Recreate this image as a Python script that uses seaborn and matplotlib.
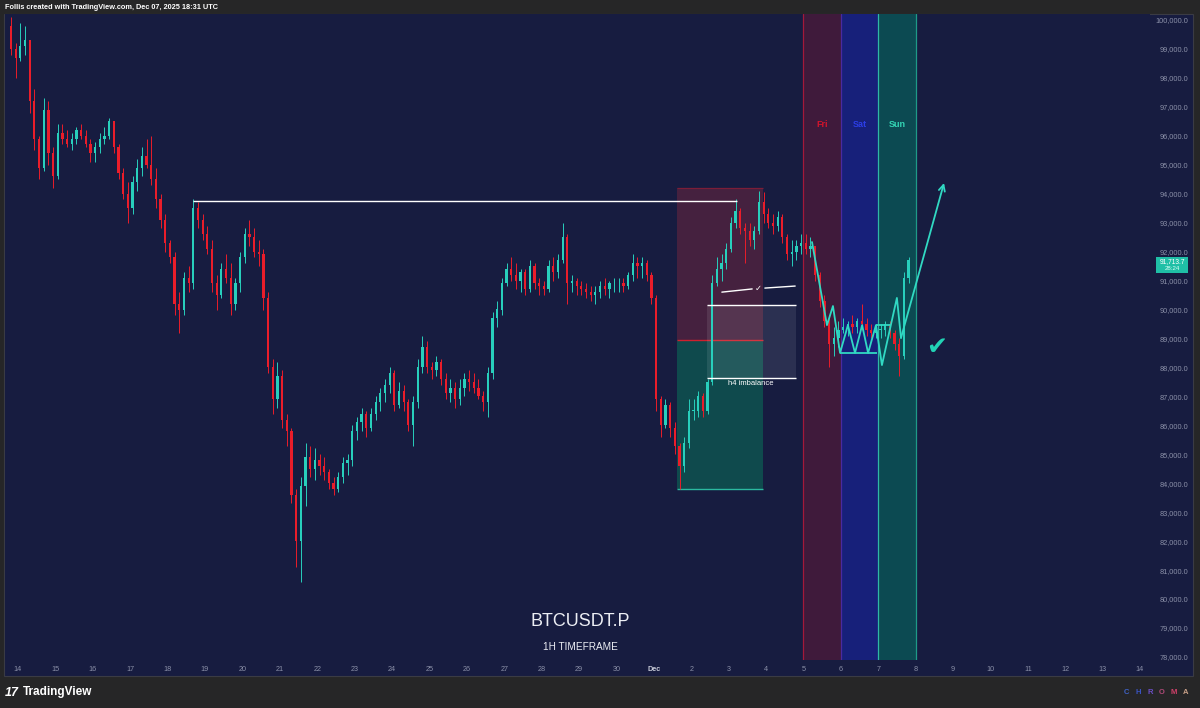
import numpy as np
import pandas as pd
import matplotlib
matplotlib.use("Agg")
import matplotlib.pyplot as plt
from matplotlib.patches import Rectangle
import seaborn as sns

# ---------------- data (prices in thousand USD, 3-hour candles from 2025-11-13 18:00 UTC) -------------
first_open = 99.8
closes = [
    99.0, 98.7,
    99.1, 99.3, 97.2, 95.9, 94.9, 96.9, 95.4, 94.6,   # Nov 14
    96.1, 95.9, 95.7, 95.9, 96.2, 96.0, 95.7, 95.4,   # Nov 15
    95.6, 95.9, 96.0, 96.5, 95.6, 94.7, 94.0, 93.5,   # Nov 16
    94.4, 94.9, 95.3, 95.0, 94.5, 93.8, 93.1, 92.3,   # Nov 17
    91.8, 90.2, 90.0, 91.1, 90.9, 93.5, 93.1, 92.6,   # Nov 18
    92.1, 90.9, 90.5, 91.4, 91.1, 90.2, 90.9, 91.8,   # Nov 19
    92.6, 92.5, 92.0, 91.9, 90.4, 88.0, 86.9, 87.7,   # Nov 20
    86.2, 85.8, 83.6, 82.0, 83.9, 84.9, 84.5, 84.8,   # Nov 21
    84.6, 84.4, 84.0, 83.8, 84.2, 84.7, 84.8, 85.8,   # Nov 22
    86.1, 86.4, 85.9, 86.4, 86.8, 87.1, 87.4, 87.8,   # Nov 23
    86.7, 87.2, 86.8, 86.0, 86.8, 88.0, 88.7, 88.0,   # Nov 24
    87.9, 88.2, 87.6, 87.1, 87.3, 86.9, 87.3, 87.6,   # Nov 25
    87.5, 87.3, 87.0, 86.8, 87.8, 89.7, 90.0, 90.9,   # Nov 26
    91.4, 91.2, 91.0, 91.3, 90.7, 91.5, 90.9, 90.8,   # Nov 27
    90.7, 91.5, 91.3, 91.7, 92.5, 90.9, 91.0, 90.8,   # Nov 28
    90.7, 90.6, 90.5, 90.6, 90.8, 90.7, 90.9, 90.9,   # Nov 29
    90.9, 90.8, 91.2, 91.6, 91.5, 91.6, 91.2, 90.4,   # Nov 30
    86.9, 86.0, 86.7, 85.9, 85.3, 84.6, 85.4, 86.5,   # Dec 1
    86.5, 87.0, 86.5, 87.5, 90.9, 91.4, 91.6, 92.1,   # Dec 2
    93.0, 93.4, 92.8, 92.7, 92.4, 92.7, 93.7, 93.3,   # Dec 3
    93.0, 92.9, 93.2, 92.5, 91.9, 92.0, 92.2, 92.3,   # Dec 4
    92.1, 92.2, 91.2, 90.3, 89.6, 88.8, 89.0, 89.3,   # Dec 5
    89.4, 89.5, 89.4, 89.6, 89.5, 89.3, 89.2, 89.3,   # Dec 6
    89.3, 89.5, 89.2, 88.8, 88.4, 91.1, 91.7137,      # Dec 7
]
highs = [
    100.1, 99.2,
    99.9, 99.8, 99.3, 97.6, 96.0, 97.3, 97.2, 95.6,
    96.4, 96.4, 96.2, 96.1, 96.3, 96.4, 96.2, 95.9,
    95.8, 96.1, 96.3, 96.6, 96.5, 95.7, 94.9, 94.4,
    94.6, 95.2, 95.6, 95.9, 96.0, 94.9, 94.0, 93.3,
    92.4, 92.0, 90.6, 91.3, 91.5, 93.8, 93.7, 93.3,
    92.9, 92.4, 91.2, 91.6, 91.9, 91.6, 91.1, 92.0,
    92.8, 93.1, 92.8, 92.4, 92.1, 90.6, 88.3, 88.2,
    87.9, 86.4, 85.9, 83.8, 84.2, 85.4, 85.3, 85.2,
    85.0, 84.9, 84.5, 84.2, 84.4, 84.9, 85.0, 86.0,
    86.3, 86.6, 86.5, 86.6, 87.0, 87.3, 87.6, 88.0,
    87.9, 87.5, 87.4, 86.9, 87.0, 88.3, 89.1, 88.9,
    88.2, 88.4, 88.3, 87.8, 87.6, 87.5, 87.6, 87.8,
    87.9, 87.8, 87.6, 87.2, 88.0, 89.9, 90.3, 91.1,
    91.6, 91.8, 91.6, 91.4, 91.4, 91.7, 91.6, 91.1,
    91.0, 91.7, 91.8, 91.9, 93.0, 92.6, 91.2, 91.1,
    91.0, 90.9, 90.8, 90.8, 91.0, 91.1, 91.0, 91.1,
    91.1, 91.1, 91.3, 91.9, 91.8, 91.8, 91.7, 91.3,
    90.5, 87.0, 86.9, 86.8, 86.1, 85.4, 85.6, 86.9,
    86.9, 87.2, 87.1, 87.6, 91.2, 91.8, 91.9, 92.3,
    93.2, 93.8, 93.5, 93.0, 93.0, 92.9, 94.1, 94.05,
    93.5, 93.3, 93.4, 93.3, 92.6, 92.4, 92.4, 92.6,
    92.6, 92.5, 92.2, 91.3, 90.5, 89.8, 89.4, 89.6,
    89.7, 89.6, 89.8, 89.7, 90.2, 89.7, 89.5, 89.5,
    89.5, 89.6, 89.6, 89.3, 89.0, 91.3, 91.8,
]
lows = [
    98.8, 98.0,
    98.6, 98.8, 96.8, 95.5, 94.5, 94.8, 95.0, 94.2,
    94.5, 95.7, 95.6, 95.5, 95.7, 95.9, 95.6, 95.1,
    95.1, 95.4, 95.7, 95.9, 95.4, 94.5, 93.8, 93.0,
    93.3, 94.1, 94.6, 94.9, 94.3, 93.5, 92.8, 92.0,
    91.6, 89.8, 89.2, 89.8, 90.6, 90.7, 92.8, 92.4,
    91.9, 90.6, 90.0, 90.4, 90.9, 89.8, 90.0, 90.6,
    91.6, 92.2, 91.8, 91.5, 90.0, 87.8, 86.4, 86.6,
    85.9, 85.3, 83.3, 81.1, 80.6, 83.2, 84.2, 84.1,
    84.3, 84.1, 83.8, 83.6, 83.7, 84.0, 84.3, 84.6,
    85.5, 85.8, 85.6, 85.8, 86.2, 86.5, 86.8, 87.1,
    86.5, 86.6, 86.5, 85.8, 85.3, 86.6, 87.8, 87.8,
    87.6, 87.7, 87.4, 86.9, 86.8, 86.6, 86.7, 87.0,
    87.2, 87.1, 86.9, 86.5, 86.3, 87.6, 89.4, 89.8,
    90.8, 91.0, 90.7, 90.6, 90.5, 90.6, 90.7, 90.5,
    90.5, 90.6, 91.0, 91.1, 91.6, 90.2, 90.6, 90.5,
    90.5, 90.4, 90.3, 90.2, 90.4, 90.5, 90.4, 90.6,
    90.6, 90.6, 90.7, 91.0, 91.1, 91.1, 91.0, 90.2,
    86.5, 85.6, 85.9, 85.6, 85.0, 83.8, 84.4, 85.2,
    86.2, 86.3, 86.3, 86.4, 87.4, 90.8, 91.0, 91.4,
    92.0, 92.8, 92.6, 91.6, 92.2, 92.1, 92.6, 93.0,
    92.8, 92.6, 92.7, 92.3, 91.7, 91.5, 91.7, 91.9,
    91.9, 91.8, 91.0, 90.1, 89.4, 88.0, 88.4, 88.7,
    89.2, 89.1, 89.2, 89.2, 89.3, 89.1, 89.0, 89.0,
    89.0, 89.1, 89.0, 88.6, 87.7, 88.3, 90.9,
]
start_time = "2025-11-13 18:00"
x_tick_labels = ["14", "15", "16", "17", "18", "19", "20", "21", "22", "23", "24", "25", "26",
                 "27", "28", "29", "30", "Dec", "2", "3", "4", "5", "6", "7", "8", "9", "10",
                 "11", "12", "13", "14"]
price_ticks = list(range(78000, 100001, 1000))

# drawings (x in days since Nov 14 00:00, price in thousand USD)
resistance_days = [4.68, 19.22]
resistance_price = 93.75
position_days = [17.62, 19.92]
position_stop, position_entry, position_target = 94.20, 88.95, 83.80
imbalance_days = [18.42, 20.80]
imbalance_top, imbalance_bottom = 90.16, 87.63
tick_line1_days, tick_line1_price = [18.82, 19.63], [90.60, 90.71]
tick_line2_days, tick_line2_price = [19.97, 20.78], [90.74, 90.81]
zigzag_days = [21.23, 21.63, 21.79, 21.98, 22.19, 22.38, 22.57, 22.73, 22.94, 23.10, 23.50, 23.61]
zigzag_price = [92.33, 89.46, 90.12, 88.50, 89.46, 88.50, 89.46, 88.50, 89.46, 88.08, 90.40, 89.02]
arrow_tip = (24.76, 94.37)
range_low_days, range_low = [21.98, 22.97], 88.50
range_high_days, range_high = [22.94, 23.32], 89.46
weekend_days = ["Fri", "Sat", "Sun"]
weekend_start = [21, 22, 23]
last_price = 91713.7

# ---------------- style ----------------
NAVY = "#171c40"
FRAME = "#262627"
TEAL = "#28cfbc"
RED = "#ea1d2a"
AXTXT = "#8b90a8"

sns.set_theme(style="dark", rc={"axes.facecolor": NAVY, "figure.facecolor": FRAME})
plt.rcParams["font.family"] = ["Liberation Sans", "DejaVu Sans"]

W, H = 1200, 708
def fx(px):
    return px / W
def fy(py):
    return 1 - py / H

fig = plt.figure(figsize=(12, 7.08), dpi=100, facecolor=FRAME)
fig.patches.append(Rectangle((fx(4), fy(676)), (1193 - 4) / W, (676 - 14) / H,
                             transform=fig.transFigure, facecolor=NAVY,
                             edgecolor="#3a3b44", lw=0.8, zorder=-5))
ax = fig.add_axes([fx(5), fy(660), (1150 - 5) / W, (660 - 14) / H])
ax.set_zorder(1)
ax.set_facecolor(NAVY)
for s in ax.spines.values():
    s.set_visible(False)
ax.grid(False)

ax.set_xlim((5 - 18) / 37.4, (1150 - 18) / 37.4)
ax.set_ylim((100 - 640 / 28.95) * 1000, (100 + 6 / 28.95) * 1000)

# ---------------- candles ----------------
c = np.array(closes) * 1000
o = np.array([first_open] + closes[:-1]) * 1000
h = np.maximum(np.array(highs) * 1000, np.maximum(o, c))
l = np.minimum(np.array(lows) * 1000, np.minimum(o, c))
times = pd.date_range(start_time, periods=len(c), freq="3h")
xs = np.asarray((times - pd.Timestamp("2025-11-14")) / pd.Timedelta(days=1)) + 0.0625
up = c >= o
cols = np.where(up, TEAL, RED)

# weekend bands
band_fill = ["#3f1a3b", "#17207a", "#0c4a52"]
band_edge = ["#a3193a", "#4a2aa0", "#2fb7a6"]
band_txt = ["#d3142c", "#2c3ee6", "#33d4b4"]
for name, d0, fc, ec, tc in zip(weekend_days, weekend_start, band_fill, band_edge, band_txt):
    ax.axvspan(d0, d0 + 1, color=fc, zorder=1, lw=0)
    ax.axvline(d0, color=ec, lw=0.9, zorder=1.2)
    ax.text(d0 + 0.5, 96400, name, color=tc, fontsize=6.5, fontweight="bold",
            ha="center", va="center", zorder=5)
ax.axvline(weekend_start[-1] + 1, color="#1f9a88", lw=0.9, zorder=1.2)

# short position box
pw = position_days[1] - position_days[0]
ax.add_patch(Rectangle((position_days[0], position_entry * 1000), pw,
                       (position_stop - position_entry) * 1000, facecolor="#45213f", lw=0, zorder=1.5))
ax.add_patch(Rectangle((position_days[0], position_target * 1000), pw,
                       (position_entry - position_target) * 1000, facecolor="#0f4a4d", lw=0, zorder=1.5))
ax.hlines(position_stop * 1000, *position_days, color="#7c1d38", lw=0.9, zorder=1.6)
ax.hlines(position_entry * 1000, *position_days, color="#d0202e", lw=1.0, zorder=1.6)
ax.hlines(position_target * 1000, *position_days, color="#2bb9a0", lw=1.0, zorder=1.6)

# h4 imbalance box
ax.add_patch(Rectangle((imbalance_days[0], imbalance_bottom * 1000), imbalance_days[1] - imbalance_days[0],
                       (imbalance_top - imbalance_bottom) * 1000, facecolor="white", alpha=0.09,
                       lw=0, zorder=2))
ax.hlines([imbalance_top * 1000, imbalance_bottom * 1000], *imbalance_days, color="white", lw=1.0, zorder=6)
ax.text(np.mean(imbalance_days) - 0.03, imbalance_bottom * 1000 - 200, "h4 imbalance", color="white",
        fontsize=5.5, ha="center", va="center", zorder=6)

# candles
ax.vlines(xs, l, h, colors=cols, lw=0.7, zorder=3)
ax.bar(xs, np.maximum(np.abs(c - o), 30), bottom=np.minimum(o, c), width=0.06,
       color=cols, lw=0, zorder=4)

# resistance line
ax.hlines(resistance_price * 1000, *resistance_days, color="white", lw=1.0, zorder=6)

# tick line with small check
ax.plot(tick_line1_days, np.array(tick_line1_price) * 1000, color="white", lw=1.0, zorder=6)
ax.plot(tick_line2_days, np.array(tick_line2_price) * 1000, color="white", lw=1.0, zorder=6)
ax.text(19.79, 90720, "\u2713", color="white", fontsize=6, ha="center", va="center",
        family=["DejaVu Sans"], zorder=6)

# projected zigzag path
ZZ = "#31d9c3"
sns.lineplot(x=zigzag_days, y=np.array(zigzag_price) * 1000, sort=False, estimator=None,
             color=ZZ, lw=1.3, ax=ax, zorder=7)
ax.hlines(range_low * 1000, *range_low_days, color=ZZ, lw=1.3, zorder=7)
ax.hlines(range_high * 1000, *range_high_days, color=ZZ, lw=1.3, zorder=7)
ax.annotate("", xy=(arrow_tip[0], arrow_tip[1] * 1000),
            xytext=(zigzag_days[-1], zigzag_price[-1] * 1000),
            arrowprops=dict(arrowstyle="->", color=ZZ, lw=1.3, mutation_scale=11,
                            shrinkA=0, shrinkB=0), zorder=7)
ax.text(24.55, 88700, "\u2714", color="#22d3b5", fontsize=18, ha="center", va="center",
        family=["DejaVu Sans"], zorder=7)

# ---------------- axes labels ----------------
ax.set_xticks(range(len(x_tick_labels)))
ax.set_xticklabels(x_tick_labels)
ax.tick_params(axis="x", length=0, pad=4.5, labelsize=5.2, labelcolor=AXTXT)
dec = ax.get_xticklabels()[17]
dec.set_fontweight("bold")
dec.set_color("#c9ccd9")

ax.yaxis.tick_right()
ax.set_yticks(price_ticks)
ax.set_yticklabels([f"{v:,.1f}" for v in price_ticks])
ax.tick_params(axis="y", length=0, pad=27.4, labelsize=5.3, labelcolor=AXTXT)
for lbl in ax.get_yticklabels():
    lbl.set_ha("right")
ax.set_xlabel("")
ax.set_ylabel("")

# current price tag
fig.patches.append(Rectangle((fx(1156), fy(273)), 32 / W, 16 / H, transform=fig.transFigure,
                             facecolor="#1fbfa6", lw=0, zorder=5))
fig.text(fx(1172), fy(261.5), f"{last_price:,.1f}", color="white", fontsize=4.8,
         ha="center", va="center", zorder=6)
fig.text(fx(1172), fy(268.8), "28:24", color="#d8fff6", fontsize=4.4,
         ha="center", va="center", zorder=6)

# watermark texts
fig.text(fx(580), fy(622), "BTCUSDT.P", color="#eceef4", fontsize=13, ha="center", va="center")
fig.text(fx(580), fy(647.5), "1H TIMEFRAME", color="#eceef4", fontsize=7.2, ha="center", va="center")

# header / footer
fig.text(fx(5), fy(7.5), "Follis created with TradingView.com, Dec 07, 2025 18:31 UTC",
         color="white", fontsize=5.3, fontweight="bold", ha="left", va="center")
fig.text(fx(5), fy(692.5), "17", color="white", fontsize=9, fontweight="heavy",
         style="italic", ha="left", va="center")
fig.text(fx(23), fy(692.5), "TradingView", color="white", fontsize=8.5, fontweight="bold",
         ha="left", va="center")
for ch, px, col in zip("CHROMA", [1126, 1138, 1150, 1162, 1174, 1186],
                       ["#3f63c8", "#3a55c6", "#6a4fc4", "#b04a78", "#d0406a", "#c8a088"]):
    fig.text(fx(px), fy(692.5), ch, color=col, fontsize=5.5, fontweight="bold",
             ha="center", va="center")

fig.savefig("out.png", dpi=100, facecolor=FRAME)
